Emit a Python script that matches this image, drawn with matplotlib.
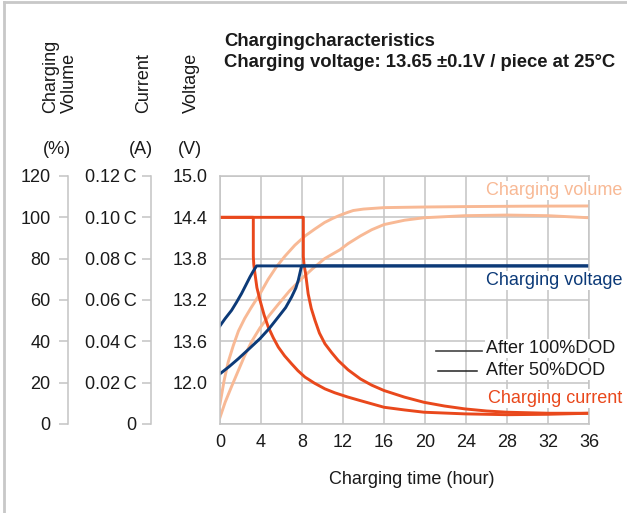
import matplotlib.pyplot as plt
from matplotlib.lines import Line2D

plt.rcParams['font.family'] = ['Liberation Sans', 'DejaVu Sans']

# datos (todo en la escala 0-120 del eje izquierdo)
t_vol50 = [0, 0.4, 0.8, 1.3, 1.8, 2.4, 3.0, 3.9, 4.7, 5.5, 6.3, 7.3, 8.3, 9.3, 10.2, 11.0,
           11.7, 12.4, 13.0, 14.0, 16, 20, 24, 30, 36]
vol50 = [9.7, 21, 30, 38, 45, 51, 56, 63, 70, 76, 81, 86.5, 91, 94.5, 97.5, 99.5,
         101, 102.3, 103.3, 104, 104.7, 105, 105.2, 105.4, 105.5]
t_vol100 = [0, 0.5, 1.1, 1.8, 2.4, 3.1, 3.9, 4.8, 5.7, 6.8, 7.9, 9.0, 10.2, 11.0, 11.7,
            12.5, 13.7, 14.8, 16, 18, 19.9, 23.9, 28, 32, 36]
vol100 = [3.2, 10.5, 17.8, 26, 33, 40, 46.5, 52.5, 58, 64.5, 70, 75, 80, 82.3, 84.3,
          87.3, 91, 94, 96.5, 98.6, 99.8, 100.8, 101.1, 100.8, 99.8]

t_cur50 = [0, 3.25, 3.25, 3.3, 3.41, 3.6, 3.9, 4.3, 4.71, 5.2, 5.69, 6.3, 6.99, 7.6, 8.29,
           9.2, 10.24, 11.2, 12.5, 13.7, 16.0, 18, 19.9, 23.9, 28, 32, 36]
cur50 = [100, 100, 81, 77, 72.8, 66, 59.9, 52.8, 46.9, 41.7, 37.2, 33, 29.1, 25.8, 22.7,
         19.8, 17, 15.1, 13, 11.3, 8.1, 6.8, 5.7, 4.9, 4.5, 4.7, 5.2]
t_cur100 = [0, 8.13, 8.13, 8.2, 8.35, 8.6, 8.9, 9.27, 9.7, 10.24, 10.9, 11.54, 12.5, 13.7,
            14.8, 16.0, 18, 19.9, 21.9, 23.9, 26, 28, 32.1, 36]
cur100 = [100, 100, 81, 77, 72.8, 63, 56, 50.1, 44, 38.8, 34.5, 30.7, 26.2, 21.8,
          18.8, 16.2, 13, 10.5, 8.7, 7.3, 6.3, 5.7, 5.2, 5.2]

t_volt50 = [0, 0.5, 1.13, 1.6, 2.1, 2.5, 2.93, 3.25, 3.57, 36]
volt50 = [47.5, 51, 55, 58.8, 63.1, 67, 71.2, 74, 76.5, 76.5]
t_volt100 = [0, 0.9, 1.79, 2.8, 3.9, 4.8, 5.69, 6.4, 6.99, 7.4, 7.64, 7.96, 36]
volt100 = [24.3, 27.8, 31.6, 36.2, 41.3, 46.2, 51.8, 56.3, 61.5, 65.8, 69.6, 76.5, 76.5]

x_ticks = [0, 4, 8, 12, 16, 20, 24, 28, 32, 36]
pct_ticks = [0, 20, 40, 60, 80, 100, 120]
pct_labels = ['0', '20', '40', '60', '80', '100', '120']
cur_labels = ['0', '0.02\u2009C', '0.04\u2009C', '0.06\u2009C', '0.08\u2009C', '0.10\u2009C', '0.12\u2009C']
volt_labels = ['', '12.0', '13.6', '13.2', '13.8', '14.4', '15.0']

c_cur = '#e9481c'
c_vol = '#f8b995'
c_volt = '#0c3a78'
c_grid = '#c4c4c4'
c_txt = '#1a1a1a'
fs = 13

fig = plt.figure(figsize=(6.27, 5.13), dpi=100)
W, H = 627, 513

def fx(px):
    return px / W

def fy(py):
    return 1 - py / H

ax = fig.add_axes([fx(220), fy(424), fx(589) - fx(220), fy(176) - fy(424)])
ax.set_xlim(0, 36)
ax.set_ylim(0, 120)
ax.set_xticks(x_ticks)
ax.set_yticks(pct_ticks)
ax.set_yticklabels(volt_labels)
ax.tick_params(axis='x', length=0, pad=7, labelsize=fs, colors=c_txt)
ax.tick_params(axis='y', length=0, pad=9, labelsize=fs, colors=c_txt)
ax.grid(True, color=c_grid, lw=1.1)
for s in ax.spines.values():
    s.set_color(c_grid)
    s.set_linewidth(1.1)
ax.set_axisbelow(True)

lw = 2.1
ax.plot(t_vol50, vol50, color=c_vol, lw=lw)
ax.plot(t_vol100, vol100, color=c_vol, lw=lw)
ax.plot(t_cur50, cur50, color=c_cur, lw=lw)
ax.plot(t_cur100, cur100, color=c_cur, lw=lw)
ax.plot(t_volt50, volt50, color=c_volt, lw=lw)
ax.plot(t_volt100, volt100, color=c_volt, lw=lw)

# etiquetas de las curvas (con fondo blanco, tapan la rejilla)
box = dict(facecolor='white', edgecolor='none', pad=1)
fig.text(fx(622), fy(195), 'Charging volume', color=c_vol, fontsize=fs, ha='right', va='baseline', bbox=box)
fig.text(fx(622), fy(285), 'Charging voltage', color=c_volt, fontsize=fs, ha='right', va='baseline', bbox=box)
fig.text(fx(622), fy(403), 'Charging current', color=c_cur, fontsize=fs, ha='right', va='baseline', bbox=box)
fig.text(fx(486), fy(353), 'After 100%DOD', color=c_txt, fontsize=fs, ha='left', va='baseline', bbox=box)
fig.text(fx(486), fy(375), 'After 50%DOD', color=c_txt, fontsize=fs, ha='left', va='baseline', bbox=box)
fig.add_artist(Line2D([fx(436), fx(482)], [fy(350.5), fy(350.5)], color='#444444', lw=1.2))
fig.add_artist(Line2D([fx(438), fx(477)], [fy(370.5), fy(370.5)], color='#222222', lw=1.1))

fig.text(fx(412), fy(479), 'Charging time (hour)', fontsize=fs, color=c_txt, ha='center', va='center')

# ejes auxiliares a la izquierda
for xpos, labels, pad in [(68, pct_labels, 6), (151, cur_labels, 4)]:
    a2 = fig.add_axes([fx(xpos), fy(424), 0.001, fy(176) - fy(424)])
    a2.set_xlim(0, 1)
    a2.set_ylim(0, 120)
    a2.set_xticks([])
    a2.set_yticks(pct_ticks)
    a2.set_yticklabels(labels)
    a2.tick_params(axis='y', length=6.5, width=1.1, color=c_grid, pad=pad, labelsize=fs, labelcolor=c_txt)
    for k in ['top', 'bottom', 'right']:
        a2.spines[k].set_visible(False)
    a2.spines['left'].set_color(c_grid)
    a2.spines['left'].set_linewidth(1.1)
    a2.patch.set_visible(False)

# títulos de los ejes
fig.text(fx(60), fy(113), 'Charging\nVolume', rotation=90, fontsize=fs, ha='center', va='bottom',
         color=c_txt, linespacing=1.1, multialignment='left')
fig.text(fx(144), fy(113), 'Current', rotation=90, fontsize=fs, ha='center', va='bottom', color=c_txt)
fig.text(fx(191), fy(113), 'Voltage', rotation=90, fontsize=fs, ha='center', va='bottom', color=c_txt)
fig.text(fx(57), fy(149), '(%)', fontsize=fs, ha='center', va='center', color=c_txt)
fig.text(fx(141), fy(149), '(A)', fontsize=fs, ha='center', va='center', color=c_txt)
fig.text(fx(190), fy(149), '(V)', fontsize=fs, ha='center', va='center', color=c_txt)

fig.text(fx(224), fy(46.5), 'Chargingcharacteristics', fontsize=13.3, fontweight='bold',
         ha='left', va='baseline', color=c_txt)
fig.text(fx(224), fy(67), 'Charging voltage: 13.65 \u00b10.1V / piece at 25\u00b0C', fontsize=13.3,
         fontweight='bold', ha='left', va='baseline', color=c_txt)

# marco de la figura
fig.add_artist(Line2D([fx(4), fx(4)], [0, fy(2)], color='#c8c8c8', lw=2))
fig.add_artist(Line2D([fx(4), 1], [fy(2), fy(2)], color='#c8c8c8', lw=2))

fig.savefig('out.png', dpi=100)
